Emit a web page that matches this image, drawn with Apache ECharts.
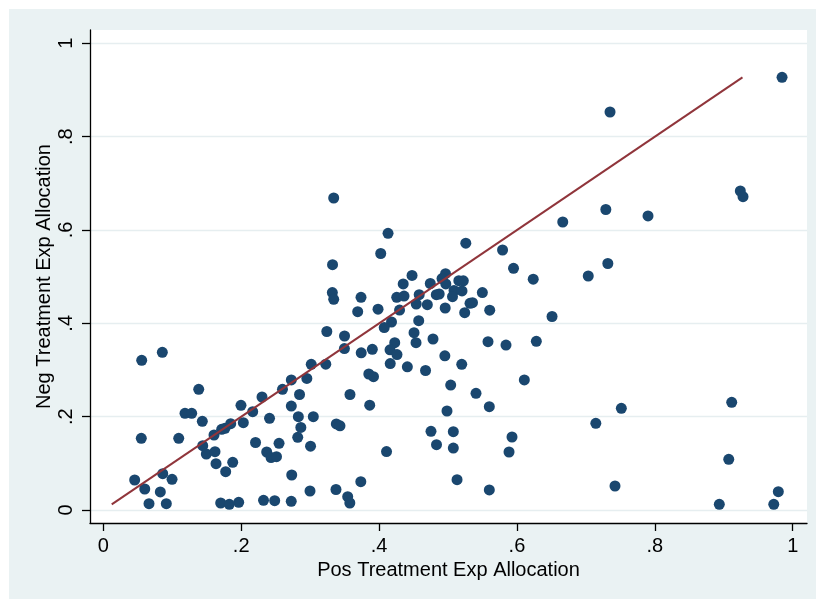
<!DOCTYPE html>
<html><head><meta charset="utf-8">
<script src="https://cdn.jsdelivr.net/npm/echarts@6/dist/echarts.min.js"></script>
<style>
html,body{margin:0;padding:0;background:#fff;}
#wrap{position:relative;width:816px;height:599px;background:#fff;overflow:hidden;}
#chart{position:absolute;left:9px;top:9px;width:807px;height:590px;}
</style>
</head><body><div id="wrap"><div id="chart"></div></div>
<script>
const posAlloc = [
0.0557,0.0856,0.1384,0.1185,0.1282,0.1436,0.0551,0.1094,0.1997,0.2302,
0.2167,0.1606,0.1717,0.1765,0.1848,0.2031,0.1442,0.1494,0.1620,0.1635,
0.1877,0.1775,0.2208,0.2370,0.2433,0.2512,0.0455,0.0601,0.0862,0.0997,
0.0827,0.0663,0.0914,0.1703,0.1828,0.1964,0.2324,0.3342,0.4130,0.4024,
0.3325,0.3322,0.3342,0.3738,0.3690,0.3985,0.4478,0.4350,0.4256,0.4362,
0.4297,0.4582,0.4539,0.4700,0.4743,0.4830,0.4872,0.4180,0.4075,0.4575,
0.4507,0.4536,0.4782,0.4227,0.4159,0.4260,0.4162,0.4410,0.4674,0.3902,
0.3741,0.3499,0.3497,0.3242,0.3227,0.3016,0.2952,0.2727,0.2599,0.2846,
0.2727,0.2411,0.2829,0.3046,0.2865,0.2820,0.3006,0.2549,0.2733,0.2486,
0.2726,0.2998,0.3375,0.3545,0.3576,0.3735,0.4108,0.3380,0.3433,0.3578,
0.3864,0.3851,0.3919,0.4753,0.4833,0.5258,0.6664,0.7289,0.7318,0.5791,
0.5950,0.6236,0.7034,0.6509,0.4964,0.4913,0.4968,0.5157,0.5222,0.5087,
0.5203,0.5065,0.5498,0.5319,0.5355,0.4959,0.5242,0.5605,0.5580,0.5841,
0.6281,0.4954,0.5199,0.6107,0.5039,0.5406,0.5599,0.4985,0.7144,0.5077,
0.5077,0.5928,0.5885,0.5131,0.5599,0.9845,0.7350,0.9240,0.9279,0.7901,
0.9115,0.7514,0.9072,0.7422,0.8935,0.9725,0.9791
];
const negAlloc = [
0.3208,0.3379,0.2586,0.2072,0.2072,0.1901,0.1536,0.1536,0.2243,0.2421,
0.2106,0.1607,0.1729,0.1751,0.1849,0.1871,0.1378,0.1200,0.1249,0.0992,
0.1022,0.0821,0.1446,0.1243,0.1125,0.1142,0.0643,0.0450,0.0778,0.0658,
0.0386,0.0135,0.0135,0.0150,0.0122,0.0165,0.0208,0.6685,0.5929,0.5496,
0.5256,0.4660,0.4515,0.4558,0.4249,0.4303,0.5025,0.4843,0.4558,0.4585,
0.4285,0.4613,0.4414,0.4399,0.4853,0.4613,0.4628,0.4028,0.3910,0.4056,
0.3799,0.3585,0.3664,0.3585,0.3433,0.3330,0.3137,0.3068,0.2989,0.3443,
0.3368,0.3728,0.3460,0.3825,0.3124,0.3122,0.2818,0.2786,0.2586,0.2475,
0.2228,0.1965,0.1999,0.1999,0.1768,0.1558,0.1367,0.1429,0.0750,0.0199,
0.0186,0.0407,0.0439,0.0285,0.0150,0.0606,0.1253,0.1843,0.1804,0.2475,
0.2246,0.2914,0.2856,0.1686,0.1399,0.5717,0.6171,0.6439,0.5282,0.5571,
0.5179,0.4945,0.5014,0.4146,0.5063,0.4960,0.4843,0.4913,0.4911,0.4703,
0.4693,0.4570,0.4660,0.4429,0.4442,0.4328,0.4228,0.4281,0.3606,0.3535,
0.3615,0.3304,0.3122,0.2786,0.2678,0.2501,0.2213,0.2121,0.1858,0.1678,
0.1328,0.1564,0.1243,0.0649,0.0429,0.9271,0.8528,0.6835,0.6713,0.6300,
0.2308,0.2179,0.1086,0.0514,0.0122,0.0122,0.0392
];
const xTicks = [0, 0.2, 0.4, 0.6, 0.8, 1];
const yTicks = [0, 0.2, 0.4, 0.6, 0.8, 1];
const xTitle = 'Pos Treatment Exp Allocation';
const yTitle = 'Neg Treatment Exp Allocation';

const fmt = v => (v === 0 ? '0' : v === 1 ? '1' : String(v).replace(/^0/, ''));
const points = posAlloc.map((x, i) => [x, negAlloc[i]]);
const lo = Math.min(...negAlloc), hi = Math.max(...negAlloc);
const FONT = '"Liberation Sans", Arial, Helvetica, sans-serif';

const chart = echarts.init(document.getElementById('chart'), null, {renderer: 'canvas'});
chart.setOption({
  animation: false,
  backgroundColor: '#eaf2f3',
  grid: {left: 81, top: 21, width: 717, height: 493, show: true, backgroundColor: '#ffffff', borderWidth: 0, containLabel: false},
  xAxis: {
    type: 'value', min: -0.0193, max: 1.0207,
    name: xTitle, nameLocation: 'middle', nameGap: 36,
    nameTextStyle: {fontSize: 20, color: '#000', fontFamily: FONT},
    axisLine: {show: true, onZero: false, lineStyle: {color: '#000', width: 1.3}},
    axisTick: {show: true, length: 8, customValues: xTicks, lineStyle: {color: '#000', width: 1.3}},
    axisLabel: {customValues: xTicks, formatter: fmt, fontSize: 20, color: '#000', margin: 13, fontFamily: FONT},
    splitLine: {show: false}
  },
  yAxis: {
    type: 'value', min: -0.02786, max: 1.0285,
    name: yTitle, nameLocation: 'middle', nameGap: 36, nameMoveOverlap: false,
    nameTextStyle: {fontSize: 20, color: '#000', fontFamily: FONT},
    axisLine: {show: true, onZero: false, lineStyle: {color: '#000', width: 1.3}},
    axisTick: {show: true, length: 8, customValues: yTicks, lineStyle: {color: '#000', width: 1.3}},
    axisLabel: {customValues: yTicks, formatter: fmt, fontSize: 20, color: '#000', margin: 14, rotate: 90, fontFamily: FONT},
    splitLine: {show: true, lineStyle: {color: '#e6eef0', width: 1.3}}
  },
  series: [
    {type: 'scatter', data: points, symbol: 'circle', symbolSize: 11,
     itemStyle: {color: '#1a476f', opacity: 1}, z: 2},
    {type: 'line', data: [[lo, lo], [hi, hi]], symbol: 'none',
     lineStyle: {color: '#90353b', width: 2}, z: 3, silent: true}
  ]
});
</script>
</body></html>
